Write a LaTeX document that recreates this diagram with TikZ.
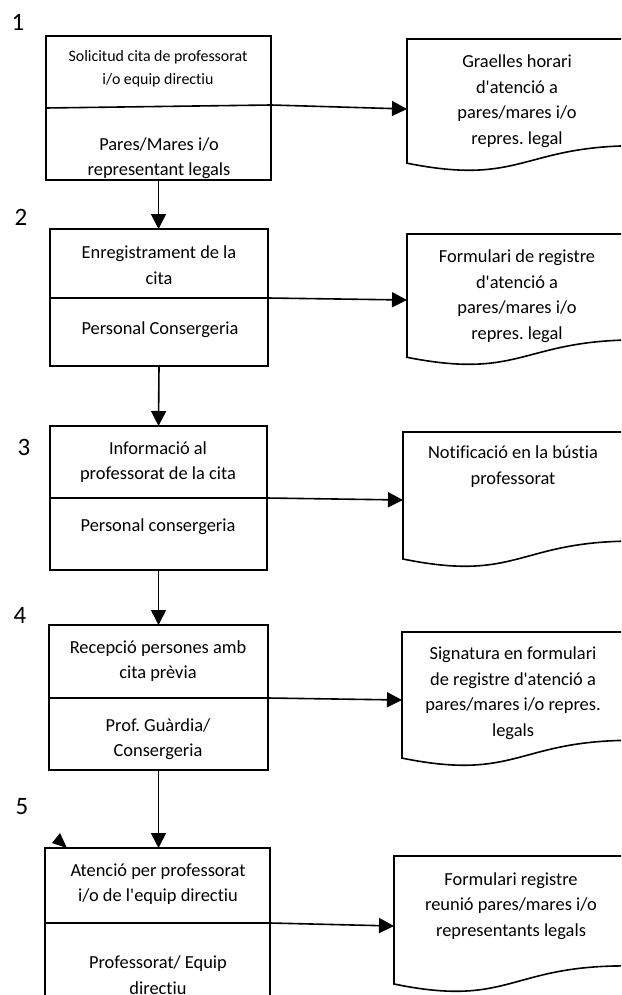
\documentclass[tikz,border=0pt]{standalone}
\usepackage{fontspec}
\setmainfont{Carlito}[Ligatures=NoCommon]
\usetikzlibrary{arrows.meta}
\newcommand{\ap}{\textquotesingle}
\begin{document}
\frenchspacing
\begin{tikzpicture}[x=1pt,y=-1pt]
\tikzset{
 boxline/.style={line width=1.6pt},
 stepbox/.style={draw, line width=1.6pt, inner sep=0pt, outer sep=0pt, anchor=north west},
 lbl/.style={font=\fontsize{18.4}{25.5}\selectfont, align=center, inner sep=0pt},
 lblsmall/.style={font=\fontsize{15.9}{23.5}\selectfont, align=center, inner sep=0pt},
 num/.style={font=\fontsize{25}{28}\selectfont, inner sep=0pt},
 arr/.style={line width=1.6pt, -{Triangle[length=15pt,width=15pt]}},
 docshape/.style={draw, line width=1.6pt, fill=white},
}
\useasboundingbox (0,0) rectangle (621,995);
\clip (0,0) rectangle (621,995);

% step numbers
\node[num] (n1) at (18,22) {1};
\node[num] (n2) at (21,217) {2};
\node[num] (n3) at (24,447) {3};
\node[num] (n4) at (20,615) {4};
\node[num] (n5) at (22,807) {5};

% process boxes
\node[stepbox, minimum width=225pt, minimum height=144pt] (b1) at (46,36) {};
\node[stepbox, minimum width=218pt, minimum height=137pt] (b2) at (50,229) {};
\node[stepbox, minimum width=217pt, minimum height=144pt] (b3) at (50,426) {};
\node[stepbox, minimum width=219pt, minimum height=145pt] (b4) at (49,625) {};
\node[stepbox, minimum width=225pt, minimum height=170pt] (b5) at (45,848) {};

% dividers
\coordinate (s1) at (271,105);
\coordinate (s2) at (268,298);
\coordinate (s3) at (267,498);
\coordinate (s4) at (268,698);
\coordinate (s5) at (270,923);
\draw[boxline] (46,108) -- (s1);
\draw[boxline] (50,298) -- (s2);
\draw[boxline] (50,498) -- (s3);
\draw[boxline] (49,698) -- (s4);
\draw[boxline] (45,923) -- (s5);

% box texts
\node[lblsmall] (t1a) at (158,69) {Solicitud cita de professorat\\i/o equip directiu};
\node[lbl] (t1b) at (159,158) {Pares/Mares i/o\\representant legals};
\node[lbl] (t2a) at (159,265) {Enregistrament de la\\cita};
\node[lbl] (t2b) at (160,330) {Personal Consergeria};
\node[lbl] (t3a) at (158,462) {Informació al\\professorat de la cita};
\node[lbl] (t3b) at (158,527) {Personal consergeria};
\node[lbl] (t4a) at (158,661) {Recepció persones amb\\cita prèvia};
\node[lbl] (t4b) at (158,739) {Prof. Guàrdia/\\Consergeria};
\node[lbl] (t5a) at (158,884) {Atenció per professorat\\i/o de l\ap equip directiu};
\node[lbl] (t5b) at (158,975) {Professorat/ Equip\\directiu};

% documents
\path[docshape] (407,39) -- (637,39) -- (637,145.7) .. controls (522,145.7) and (522,186.2) .. (407,163.2) -- cycle;
\path[docshape] (407,234) -- (637,234) -- (637,339.9) .. controls (522,339.9) and (522,380.1) .. (407,357.3) -- cycle;
\path[docshape] (403,432) -- (633,432) -- (633,541.1) .. controls (518,541.1) and (518,582.6) .. (403,559) -- cycle;
\path[docshape] (402,632) -- (632,632) -- (632,740.3) .. controls (517,740.3) and (517,781.4) .. (402,758.1) -- cycle;
\path[docshape] (394,856) -- (624,856) -- (624,965.9) .. controls (509,965.9) and (509,1007.7) .. (394,984) -- cycle;

\coordinate (e1) at (407,109);
\coordinate (e2) at (407,300);
\coordinate (e3) at (403,500);
\coordinate (e4) at (402,700);
\coordinate (e5) at (394,926);

\node[lbl] (d1) at (517,101) {Graelles horari\\d\ap atenció a\\pares/mares i/o\\repres. legal};
\node[lbl] (d2) at (517,296) {Formulari de registre\\d\ap atenció a\\pares/mares i/o\\repres. legal};
\node[lbl] (d3) at (513,466.5) {Notificació en la bústia\\professorat};
\node[lbl] (d4) at (513,693) {Signatura en formulari\\de registre d\ap atenció a\\pares/mares i/o repres.\\legals};
\node[lbl] (d5) at (511,906) {Formulari registre\\reunió pares/mares i/o\\representants legals};

% connectors to documents
\draw[arr] (s1) -- (e1);
\draw[arr] (s2) -- (e2);
\draw[arr] (s3) -- (e3);
\draw[arr] (s4) -- (e4);
\draw[arr] (s5) -- (e5);

% flow connectors
\draw[arr] (b1.south) -- (b1.south |- b2.north);
\draw[arr] (b2.south) -- (b3.north);
\draw[arr] (b3.south) -- (b3.south |- b4.north);
\draw[arr] (b4.south) -- (b4.south |- b5.north);

% stray arrowhead
\fill (52,843) -- (60,833) -- (67,848) -- cycle;
\end{tikzpicture}
\end{document}
